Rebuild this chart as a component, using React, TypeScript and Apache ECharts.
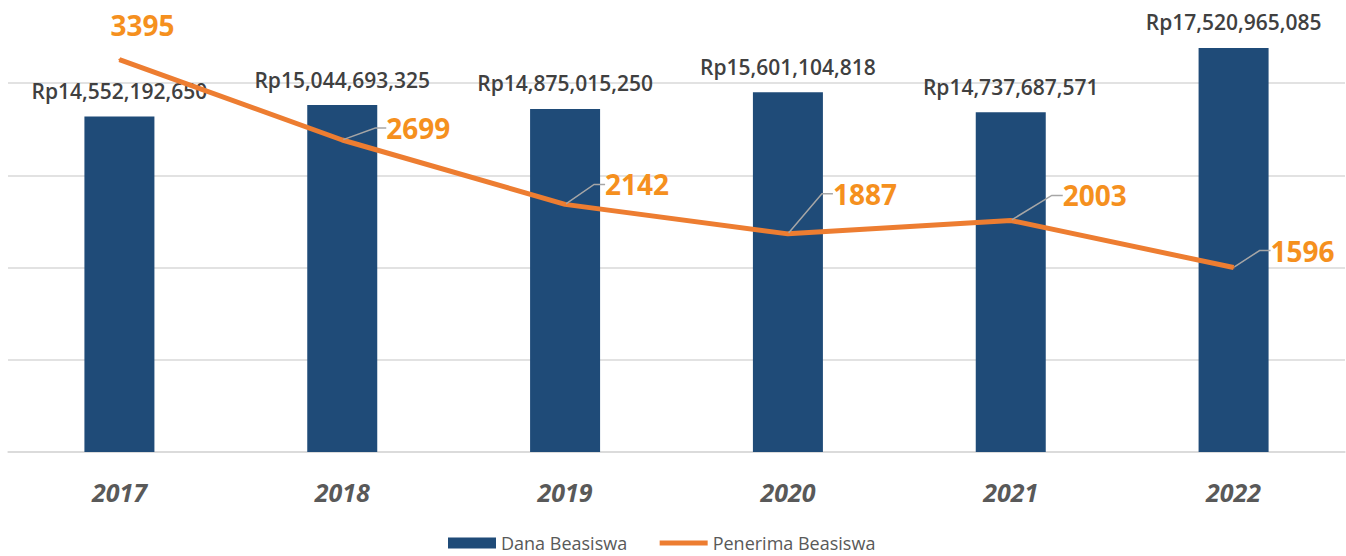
import React, { useEffect, useRef } from "react";
import * as echarts from "echarts";

const YEARS = ["2017", "2018", "2019", "2020", "2021", "2022"];
const DANA = [14552192650, 15044693325, 14875015250, 15601104818, 14737687571, 17520965085];
const PENERIMA = [3395, 2699, 2142, 1887, 2003, 1596];
const SERIES_NAMES = ["Dana Beasiswa", "Penerima Beasiswa"];
// label nudges (style only)
const LABEL_DX = [-16, 37, 33, 38, 45, 30];
const LABEL_DY = [-35, -12, -20, -40, -25, -17];

const FONT = "'Open Sans', 'Noto Sans', sans-serif";

export default function App() {
  const ref = useRef<HTMLDivElement>(null);
  useEffect(() => {
    const chart = echarts.init(ref.current!, null, { renderer: "svg" });
    const fmt = (v: number) => "Rp" + v.toLocaleString("en-US");
    chart.setOption({
      animation: false,
      textStyle: { fontFamily: FONT },
      grid: { left: 8, right: 1, top: 0, bottom: 104, containLabel: false },
      legend: {
        top: 534,
        left: 448,
        padding: 0,
        itemWidth: 48,
        itemHeight: 11,
        itemGap: 30,
        textStyle: { fontSize: 18, color: "#595959", fontFamily: FONT },
        data: [
          { name: SERIES_NAMES[0], icon: "rect" },
          { name: SERIES_NAMES[1], itemStyle: { opacity: 0 }, lineStyle: { width: 5, color: "#ED7D31" } },
        ],
      },
      xAxis: {
        type: "category",
        data: YEARS,
        axisTick: { show: false },
        axisLine: { lineStyle: { color: "#d9d9d9", width: 1.5 } },
        axisLabel: {
          margin: 27,
          fontSize: 25,
          fontWeight: "bold",
          fontStyle: "italic",
          color: "#595959",
          fontFamily: FONT,
        },
      },
      yAxis: [
        {
          type: "value",
          min: 0,
          max: 19.6e9,
          interval: 4e9,
          axisLabel: { show: false },
          axisLine: { show: false },
          axisTick: { show: false },
          splitLine: { showMaxLine: false, lineStyle: { color: "#d9d9d9", width: 1.5 } },
        },
        {
          type: "value",
          min: 0,
          max: 3910,
          show: false,
          splitLine: { show: false },
        },
      ],
      series: [
        {
          name: SERIES_NAMES[0],
          type: "bar",
          data: DANA,
          barWidth: 70,
          itemStyle: { color: "#1F4B78" },
          label: {
            show: true,
            position: "top",
            distance: 15,
            formatter: (p: any) => fmt(p.value),
            fontSize: 21,
            fontWeight: 600,
            color: "#404040",
            fontFamily: FONT,
          },
          z: 2,
        },
        {
          name: SERIES_NAMES[1],
          type: "line",
          yAxisIndex: 1,
          data: PENERIMA.map((v, i) => (i === 0 ? { value: v, labelLine: { show: false } } : v)),
          symbol: "circle",
          symbolSize: 2,
          showSymbol: true,
          itemStyle: { color: "#ED7D31" },
          lineStyle: { color: "#ED7D31", width: 5 },
          label: {
            show: true,
            position: "right",
            distance: 0,
            padding: [0, 0, 0, 6],
            fontSize: 28,
            fontWeight: "bold",
            color: "#F5901E",
            fontFamily: FONT,
          },
          labelLine: {
            show: true,
            length2: 11,
            lineStyle: { color: "#A6A6A6", width: 1.5 },
          },
          labelLayout: (p: any) => ({ dx: LABEL_DX[p.dataIndex], dy: LABEL_DY[p.dataIndex] }),
          z: 5,
        },
      ],
    });
    return () => chart.dispose();
  }, []);
  return (
    <div
      ref={ref}
      style={{ position: "absolute", left: 0, top: 0, width: 1346, height: 556, background: "#fff" }}
    />
  );
}
